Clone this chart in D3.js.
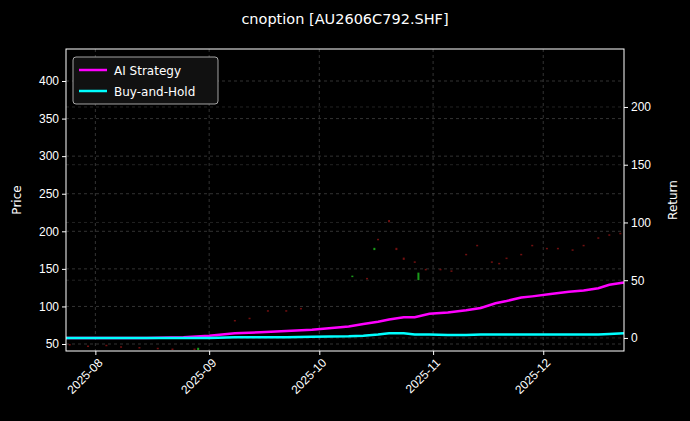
<!DOCTYPE html>
<html><head><meta charset="utf-8">
<script src="https://cdn.jsdelivr.net/npm/d3@7"></script>
<style>body{margin:0;background:#000;}svg{font-family:"DejaVu Sans",sans-serif;}</style>
</head><body><svg id="c" width="690" height="421"></svg>
<script>
const title = "cnoption [AU2606C792.SHF]";
const seriesNames = ["AI Strategy", "Buy-and-Hold"];
const seriesColors = ["#ff00ff", "#00ffff"];
const lineDates = ["2025-07-24","2025-08-05","2025-08-15","2025-08-25","2025-09-01","2025-09-08","2025-09-15","2025-09-22","2025-09-29","2025-10-09","2025-10-13","2025-10-17","2025-10-20","2025-10-24","2025-10-27","2025-10-31","2025-11-05","2025-11-10","2025-11-14","2025-11-18","2025-11-21","2025-11-25","2025-11-28","2025-12-03","2025-12-08","2025-12-12","2025-12-16","2025-12-19","2025-12-23"];
const aiReturn = [0,0,0,0.5,2,4,5,6,7,10,12,14,16,18,18,21,22,24,26,30,32,35,36,38,40,41,43,46,48];
const bhReturn = [0,0,0,0,0,0.5,0.5,0.5,1,1.5,2,3,4,4,3,3,2.5,2.5,3,3,3,3,3,3,3,3,3,3.5,4];
const candleDates = ["2025-07-25","2025-07-30","2025-08-04","2025-08-08","2025-08-13","2025-08-18","2025-08-22","2025-08-28","2025-08-29","2025-09-03","2025-09-08","2025-09-12","2025-09-17","2025-09-22","2025-09-26","2025-10-10","2025-10-14","2025-10-16","2025-10-17","2025-10-20","2025-10-22","2025-10-24","2025-10-27","2025-10-28","2025-10-30","2025-11-03","2025-11-06","2025-11-10","2025-11-13","2025-11-17","2025-11-19","2025-11-21","2025-11-25","2025-11-28","2025-12-02","2025-12-05","2025-12-09","2025-12-12","2025-12-16","2025-12-19","2025-12-22"];
const candleOpen = [50,48,49,47,46,45,44,44,42,60,82,85,95,95,98,140,138,175,190,215,178,165,160,135,150,150,148,170,182,160,158,165,170,182,178,178,176,182,192,196,198];
const candleClose = [49,47,48,46,45,44,43,43,45,59,80,84,93,94,97,141,137,178,188,212,175,162,158,145,149,149,146,168,180,158,156,163,168,180,176,176,174,180,190,195,197];
const priceTicks = [50,100,150,200,250,300,350,400];
const returnTicks = [0,50,100,150,200];
const monthTicks = ["2025-08-01","2025-09-01","2025-10-01","2025-11-01","2025-12-01"];

const parse = d3.timeParse("%Y-%m-%d");
const svg = d3.select("#c");
const L = 66, R = 624, T = 49, B = 351;
const x = d3.scaleTime().domain([parse("2025-07-24"), parse("2025-12-23")]).range([L, R]);
const yP = d3.scaleLinear().domain([40.7, 442.6]).range([B, T]);
const yR = d3.scaleLinear().domain([-11.3, 250.2]).range([B, T]);

svg.append("text").attr("x", 345).attr("y", 24).attr("text-anchor", "middle")
  .attr("fill", "#fff").attr("font-size", 14.5).text(title);

// grid
const g = svg.append("g");
g.selectAll(".gx").data(monthTicks).enter().append("line")
  .attr("x1", d => x(parse(d))).attr("x2", d => x(parse(d))).attr("y1", T).attr("y2", B)
  .attr("stroke", "#555").attr("stroke-dasharray", "3,3").attr("stroke-width", 0.6);
g.selectAll(".gy").data(priceTicks).enter().append("line")
  .attr("x1", L).attr("x2", R).attr("y1", d => yP(d)).attr("y2", d => yP(d))
  .attr("stroke", "#555").attr("stroke-dasharray", "3,3").attr("stroke-width", 0.6);
g.selectAll(".gr").data(returnTicks).enter().append("line")
  .attr("x1", L).attr("x2", R).attr("y1", d => yR(d)).attr("y2", d => yR(d))
  .attr("stroke", "#444").attr("stroke-dasharray", "3,3").attr("stroke-width", 0.5);

// candles
svg.selectAll(".cd").data(candleDates).enter().append("rect")
  .attr("x", d => x(parse(d)) - 1)
  .attr("y", (d, i) => yP(Math.max(candleOpen[i], candleClose[i])))
  .attr("width", 2)
  .attr("height", (d, i) => Math.max(1.5, Math.abs(yP(candleOpen[i]) - yP(candleClose[i]))))
  .attr("fill", (d, i) => candleClose[i] > candleOpen[i] ? "#1a9a1a" : "#701010");

// lines
const line = arr => d3.line().x((d, i) => x(parse(lineDates[i]))).y(d => yR(d))(arr);
[aiReturn, bhReturn].forEach((arr, k) => {
  svg.append("path").attr("d", line(arr)).attr("fill", "none")
    .attr("stroke", seriesColors[k]).attr("stroke-width", 2.5);
});

// axes
const ax = svg.append("g").attr("transform", `translate(0,${B})`)
  .call(d3.axisBottom(x).tickValues(monthTicks.map(parse)).tickFormat(d3.timeFormat("%Y-%m")).tickSize(4));
ax.selectAll("text").attr("transform", "rotate(-45)").attr("text-anchor", "end")
  .attr("dx", "-0.3em").attr("dy", "0.6em").attr("font-size", 12);
const ayl = svg.append("g").attr("transform", `translate(${L},0)`).call(d3.axisLeft(yP).tickValues(priceTicks).tickSize(4));
ayl.selectAll("text").attr("font-size", 12);
const ayr = svg.append("g").attr("transform", `translate(${R},0)`).call(d3.axisRight(yR).tickValues(returnTicks).tickSize(4));
ayr.selectAll("text").attr("font-size", 12);
svg.selectAll(".domain").remove();
svg.selectAll(".tick line").attr("stroke", "#fff");
svg.selectAll(".tick text").attr("fill", "#fff");
svg.append("rect").attr("x", L).attr("y", T).attr("width", R - L).attr("height", B - T)
  .attr("fill", "none").attr("stroke", "#fff").attr("stroke-width", 1);

svg.append("text").attr("transform", `translate(21,${(T + B) / 2}) rotate(-90)`).attr("text-anchor", "middle")
  .attr("fill", "#fff").attr("font-size", 12).text("Price");
svg.append("text").attr("transform", `translate(677,${(T + B) / 2}) rotate(-90)`).attr("text-anchor", "middle")
  .attr("fill", "#fff").attr("font-size", 12).text("Return");

// legend
const lg = svg.append("g");
lg.append("rect").attr("x", 73).attr("y", 57).attr("width", 145).attr("height", 47).attr("rx", 3)
  .attr("fill", "#111").attr("stroke", "#ccc").attr("stroke-width", 0.8);
seriesNames.forEach((n, i) => {
  const yy = 70 + i * 21;
  lg.append("line").attr("x1", 79).attr("x2", 107).attr("y1", yy).attr("y2", yy)
    .attr("stroke", seriesColors[i]).attr("stroke-width", 2.5);
  lg.append("text").attr("x", 114).attr("y", yy + 4.5).attr("fill", "#fff").attr("font-size", 12).text(n);
});
</script></body></html>
